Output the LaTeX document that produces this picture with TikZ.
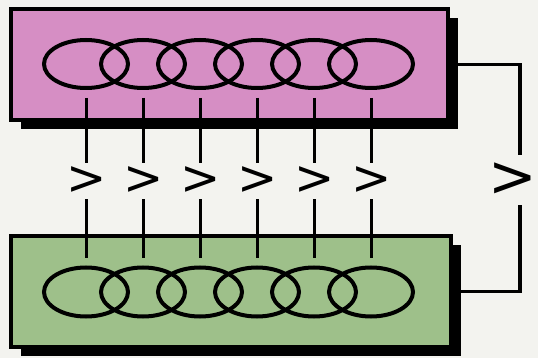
\documentclass[tikz,border=0pt]{standalone}
\usepackage{fontspec}
\newfontfamily\signfont{DejaVu Sans}
\usetikzlibrary{shadows}

\definecolor{pinkbox}{RGB}{214,142,196}
\definecolor{greenbox}{RGB}{158,192,138}
\definecolor{paper}{RGB}{243,243,239}

\begin{document}
\begin{tikzpicture}[x=1pt, y=-1pt,
        membrane/.style={draw, line width=4pt, inner sep=0pt, drop shadow={fill=black, opacity=1, shadow xshift=10pt, shadow yshift=-9pt}},
        ring/.style={line width=4pt},
        link/.style={line width=3pt},
        gt/.style={inner sep=0pt, minimum height=36pt, font=\signfont\fontsize{48}{48}\selectfont},
        biggt/.style={inner sep=0pt, minimum height=50pt, font=\signfont\fontsize{58}{58}\selectfont}]
        \fill[paper] (0,0) rectangle (538,358);
        \useasboundingbox (0,0) rectangle (538,358);
        % the two boxes
        \node[membrane, fill=pinkbox, minimum width=437pt, minimum height=110.5pt] (top) at (229,64.75) {};
        \node[membrane, fill=greenbox, minimum width=440pt, minimum height=111pt] (bottom) at (231,291.5) {};
        % rings, signs and links
        \foreach \i in {0,...,5} {
            \pgfmathsetmacro{\x}{86+57*\i}
            \draw[ring] (\x,64) ellipse (42 and 24);
            \draw[ring] (\x,292) ellipse (42 and 24.5);
            \node[gt] (g\i) at (\x+1,181) {>};
            \coordinate (a\i) at (\x,98);
            \coordinate (b\i) at (\x,258);
            \draw[link] (a\i) -- (a\i |- g\i.north);
            \draw[link] (b\i |- g\i.south) -- (b\i);
        }
        % the side link
        \node[biggt] (side) at (513,180) {>};
        \draw[link, line width=3.5pt] (top.east) -| ([xshift=7pt]side.north);
        \draw[link, line width=3.5pt] ([xshift=7pt]side.south) |- (bottom.east);
\end{tikzpicture}
\end{document}
